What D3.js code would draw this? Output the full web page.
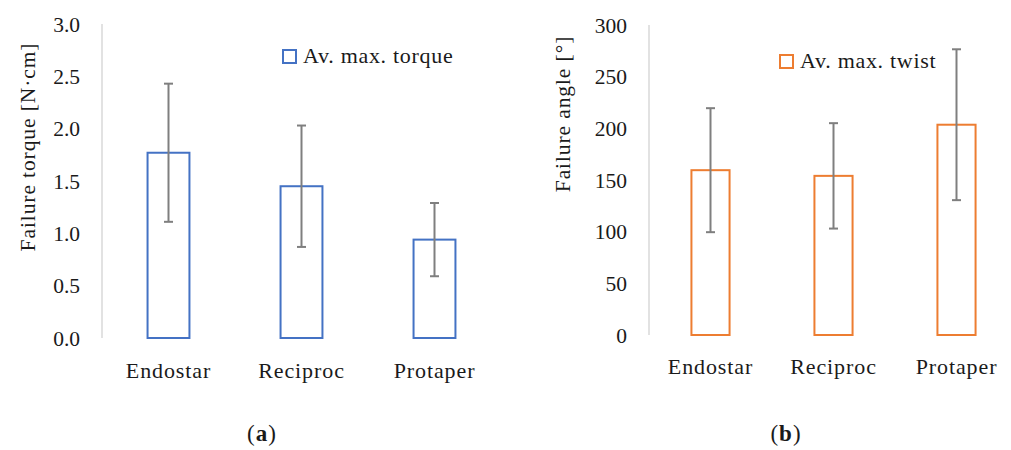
<!DOCTYPE html>
<html><head><meta charset="utf-8">
<script src="https://cdn.jsdelivr.net/npm/d3@7"></script>
<style>
html,body{margin:0;padding:0;background:#fff;}
svg text{font-family:"Liberation Serif","Times New Roman",serif;fill:#1a1a1a;}
</style></head>
<body>
<svg id="c" width="1011" height="450"></svg>
<script>
const categories = ["Endostar", "Reciproc", "Protaper"];
const torqueMean = [1.77, 1.45, 0.94];
const torqueErr  = [0.66, 0.58, 0.35];
const twistMean  = [159.5, 154, 203.5];
const twistErr   = [60, 51, 73];
const torqueTicks = [0, 0.5, 1.0, 1.5, 2.0, 2.5, 3.0];
const twistTicks  = [0, 50, 100, 150, 200, 250, 300];

const svg = d3.select("#c");

function panel(o){
  const g = svg.append("g");
  const y = d3.scaleLinear().domain([o.ticks[0], o.ticks[o.ticks.length-1]]).range([o.y0, o.y1]);
  const x = d3.scaleBand().domain(categories).range([o.x0, o.x1]).paddingInner(o.pad).paddingOuter(o.pad/2);
  g.append("line").attr("x1", o.x0).attr("x2", o.x0).attr("y1", y(o.ticks[0])).attr("y2", y(o.ticks[o.ticks.length-1]))
    .attr("stroke", "#d9d9d9").attr("stroke-width", 1.5);
  g.selectAll(".yt").data(o.ticks).join("text")
    .attr("x", o.labelX).attr("y", d => y(d)).attr("dy", "0.35em")
    .attr("text-anchor", "end").style("font-size", "21.5px")
    .text(o.fmt);
  g.selectAll(".bar").data(o.mean).join("rect")
    .attr("x", (d,i) => x(categories[i])).attr("width", x.bandwidth())
    .attr("y", d => y(d)).attr("height", d => y(0) - y(d))
    .attr("fill", "none").attr("stroke", o.color).attr("stroke-width", 2);
  const cap = 4.5;
  o.mean.forEach((m, i) => {
    const cx = x(categories[i]) + x.bandwidth()/2;
    const e = o.err[i];
    g.append("line").attr("x1", cx).attr("x2", cx).attr("y1", y(m+e)).attr("y2", y(m-e)).attr("stroke", "#7f7f7f").attr("stroke-width", 2);
    [m+e, m-e].forEach(v => g.append("line").attr("x1", cx-cap).attr("x2", cx+cap).attr("y1", y(v)).attr("y2", y(v)).attr("stroke", "#7f7f7f").attr("stroke-width", 2));
  });
  g.selectAll(".xl").data(categories).join("text")
    .attr("x", d => x(d) + x.bandwidth()/2).attr("y", o.catY)
    .attr("text-anchor", "middle").style("font-size", "22px").attr("letter-spacing", 0.9)
    .text(d => d);
  g.append("text").attr("transform", `translate(${o.titleX},${o.titleY}) rotate(-90)`)
    .attr("text-anchor", "middle").attr("dy", "0.35em").style("font-size", "21.5px").attr("letter-spacing", 0.9)
    .text(o.title);
  g.append("rect").attr("x", o.legX).attr("y", o.legY).attr("width", 13).attr("height", 13)
    .attr("fill", "none").attr("stroke", o.color).attr("stroke-width", 2);
  g.append("text").attr("x", o.legX + 20).attr("y", o.legY + 13).style("font-size", "22px").attr("letter-spacing", 0.7).text(o.legend);
  const pl = g.append("text").attr("x", o.plX).attr("y", 441).attr("text-anchor", "middle").style("font-size", "23px").attr("letter-spacing", 1);
  pl.append("tspan").text("(");
  pl.append("tspan").attr("font-weight", "bold").text(o.pl);
  pl.append("tspan").text(")");
}

panel({ticks: torqueTicks, mean: torqueMean, err: torqueErr, fmt: d => d.toFixed(1),
  x0: 102, x1: 501, y0: 338, y1: 24, pad: 0.685, color: "#4472c4",
  labelX: 80, catY: 378, titleX: 27, titleY: 147, title: "Failure torque [N·cm]",
  legX: 283, legY: 50, legend: "Av. max. torque", plX: 262, pl: "a"});

panel({ticks: twistTicks, mean: twistMean, err: twistErr, fmt: d => String(d),
  x0: 649, x1: 1018, y0: 335, y1: 25, pad: 0.69, color: "#ed7d31",
  labelX: 627, catY: 374, titleX: 562, titleY: 114, title: "Failure angle [°]",
  legX: 780, legY: 55, legend: "Av. max. twist", plX: 786, pl: "b"});
</script>
</body></html>
